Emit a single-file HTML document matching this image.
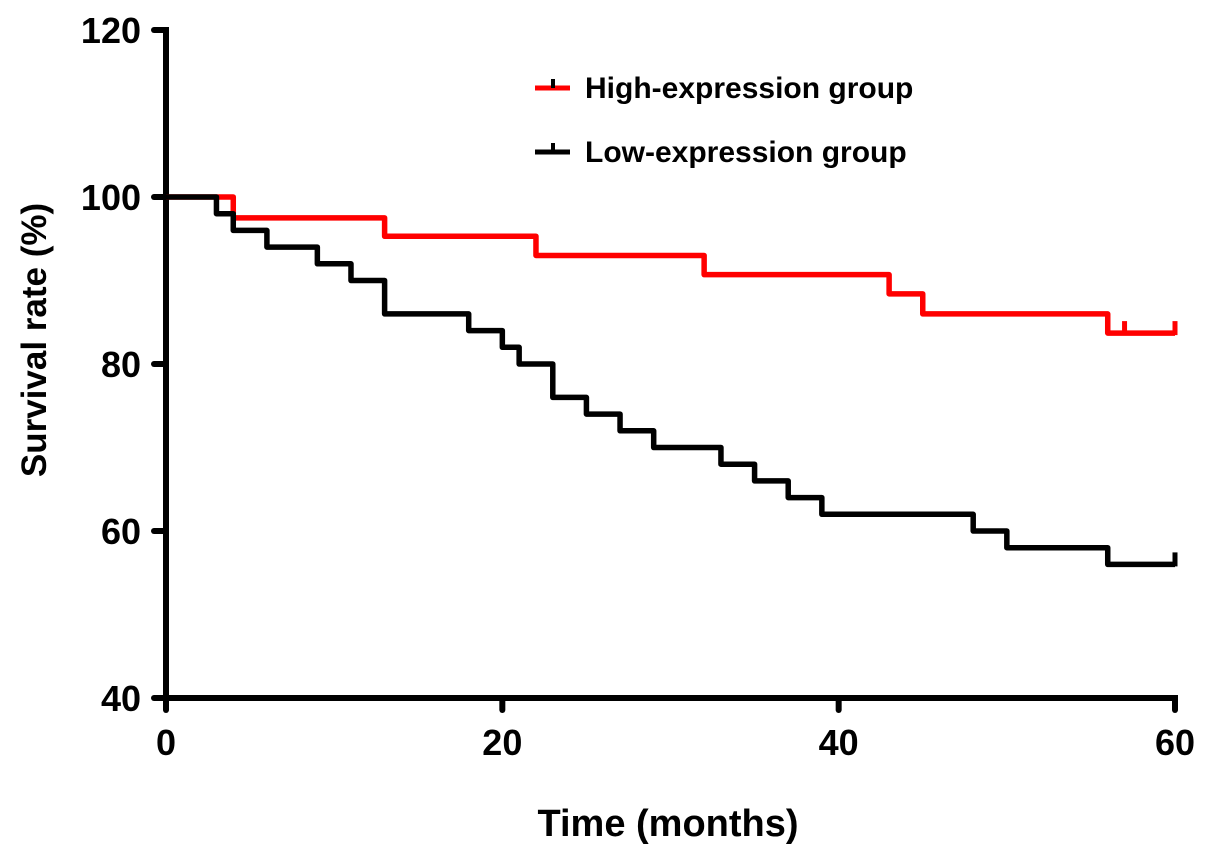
<!DOCTYPE html>
<html><head><meta charset="utf-8"><style>
html,body{margin:0;padding:0;background:#fff;}
svg text{font-family:"Liberation Sans",Arial,sans-serif;font-weight:bold;fill:#000;}
</style></head><body>
<svg id="chart" width="1205" height="857" viewBox="0 0 1205 857">
<g id="axes"></g>
<g id="series"></g>
<g id="legend"></g>
</svg>
<script>
const xTicks=[0,20,40,60];
const yTicks=[40,60,80,100,120];
const highTimes=[0,4,13,22,32,43,45,56,60];
const highValues=[100,97.5,95.3,93,90.7,88.4,86,83.7,83.7];
const highCensor=[57,60];
const lowTimes=[0,3,4,6,9,11,13,18,20,21,23,25,27,29,33,35,37,39,48,50,56,60];
const lowValues=[100,98,96,94,92,90,86,84,82,80,76,74,72,70,68,66,64,62,60,58,56,56];
const lowCensor=[60];
const seriesNames=["High-expression group","Low-expression group"];

const NS="http://www.w3.org/2000/svg";
const X0=166,X1=1175,Y0=698,Y1=30;
function sx(v){return X0+(v-0)/60*(X1-X0);}
function sy(v){return Y0-(v-40)/80*(Y0-Y1);}
function mk(tag,attrs,parent){const e=document.createElementNS(NS,tag);for(const k in attrs)e.setAttribute(k,attrs[k]);parent.appendChild(e);return e;}
const axes=document.getElementById('axes'),series=document.getElementById('series'),legend=document.getElementById('legend');

let yl=mk('line',{x1:X0,y1:Y0+3,x2:X0,y2:Y1-3,stroke:'#000','stroke-width':6},axes);


let xl=mk('line',{x1:X0-12,y1:Y0,x2:X1+3,y2:Y0,stroke:'#000','stroke-width':6},axes);


yTicks.forEach(v=>{
  const t=mk('line',{x1:X0-12,y1:sy(v),x2:X0,y2:sy(v),stroke:'#000','stroke-width':6,'stroke-linecap':'round'},axes);
  
  
  const l=mk('text',{x:X0-25,y:sy(v)+13,'text-anchor':'end','font-size':36},axes);l.textContent=v;
  
  
});
xTicks.forEach(v=>{
  const t=mk('line',{x1:sx(v),y1:Y0,x2:sx(v),y2:Y0+12,stroke:'#000','stroke-width':6,'stroke-linecap':'round'},axes);
  
  
  const l=mk('text',{x:sx(v),y:Y0+57,'text-anchor':'middle','font-size':36},axes);l.textContent=v;
  
  
});
let xt=mk('text',{x:668,y:836,'text-anchor':'middle','font-size':38},axes);xt.textContent='Time (months)';


let yt=mk('text',{x:0,y:0,'text-anchor':'middle','font-size':35,transform:'translate(46,340) rotate(-90)'},axes);yt.textContent='Survival rate (%)';



function drawKM(times,vals,cens,color,name){
  let d='M'+sx(times[0])+','+sy(vals[0]);
  for(let i=1;i<times.length;i++){d+=' H'+sx(times[i])+' V'+sy(vals[i]);}
  const p=mk('path',{d:d,fill:'none',stroke:color,'stroke-width':5.5,'stroke-linejoin':'round'},series);
  
  
  cens.forEach(c=>{
    let v=vals[0];for(let i=0;i<times.length;i++)if(times[i]<=c)v=vals[i];
    const t=mk('line',{x1:sx(c),y1:sy(v)-12,x2:sx(c),y2:sy(v)+2,stroke:color,'stroke-width':5},series);
    
    
  });
}
drawKM(highTimes,highValues,highCensor,'#ff0000','high-expression');
drawKM(lowTimes,lowValues,lowCensor,'#000000','low-expression');

[['#ff0000',88,seriesNames[0]],['#000000',152,seriesNames[1]]].forEach(([c,y,n],i)=>{
  const g=mk('g',{},legend);
  
  
  mk('line',{x1:535,y1:y,x2:570,y2:y,stroke:c,'stroke-width':5},g);
  mk('line',{x1:553,y1:y-9,x2:553,y2:y,stroke:'#000','stroke-width':4},g);
  const t=mk('text',{x:585,y:y+10,'font-size':30},g);t.textContent=n;
});
</script>
</body></html>
